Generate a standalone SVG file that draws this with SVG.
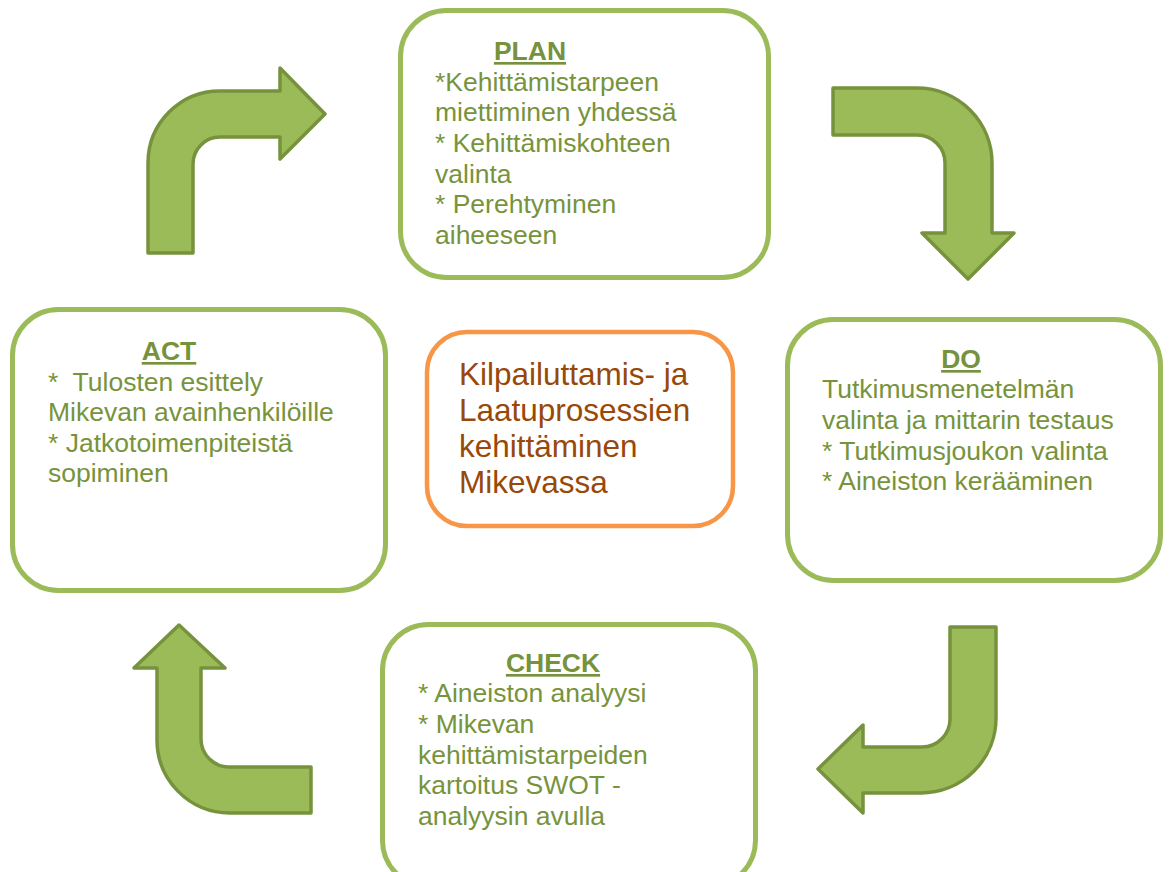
<svg xmlns="http://www.w3.org/2000/svg" width="1171" height="872" viewBox="0 0 1171 872">
<style>
.box{fill:#ffffff;stroke:#9BBB59;stroke-width:5}
.center{fill:#ffffff;stroke:#F79646;stroke-width:4.5}
.arrow{fill:#9BBB59;stroke:#76923C;stroke-width:3.5;stroke-linejoin:round}
.t{font-family:"Liberation Sans",Arial,sans-serif;font-size:26.5px;fill:#77933C;white-space:pre}
.h{font-family:"Liberation Sans",Arial,sans-serif;font-size:26.5px;font-weight:bold;fill:#76923C;text-anchor:middle;text-decoration:underline}
.c{font-family:"Liberation Sans",Arial,sans-serif;font-size:31.5px;fill:#984807}
</style>
<rect width="1171" height="872" fill="#ffffff"/>
<g id="connectors">
<path class="arrow" d="M148,253 L148,163 A72,72 0 0 1 220,91 L280,91 L280,68 L325,114 L280,159 L280,137 L220,137 A27,27 0 0 0 193,164 L193,253 Z"/>
<path class="arrow" d="M833,88 L917,88 A75,75 0 0 1 992,163 L992,233 L1014,233 L968,279 L922,233 L945,233 L945,163 A28,28 0 0 0 917,135 L833,135 Z"/>
<path class="arrow" d="M950,627 L996,627 L996,718 A75,75 0 0 1 921,793 L863,793 L863,813 L818,769 L863,725 L863,747 L922,747 A28,28 0 0 0 950,719 Z"/>
<path class="arrow" d="M311,767 L311,813 L230,813 A73,73 0 0 1 157,740 L157,668 L134,668 L179,625 L225,668 L201,668 L201,739 A28,28 0 0 0 229,767 Z"/>
</g>
<g id="plan">
<rect class="box" x="400.5" y="10.5" width="368" height="267" rx="46"/>
<text class="h" x="530" y="60">PLAN</text>
<text class="t" x="435" y="91">*Kehittämistarpeen</text>
<text class="t" x="435" y="121">miettiminen yhdessä</text>
<text class="t" x="435" y="152">* Kehittämiskohteen</text>
<text class="t" x="435" y="183">valinta</text>
<text class="t" x="435" y="213">* Perehtyminen</text>
<text class="t" x="435" y="244">aiheeseen</text>
</g>
<g id="do">
<rect class="box" x="787.5" y="319.5" width="373" height="261" rx="46"/>
<text class="h" x="961" y="368">DO</text>
<text class="t" x="822" y="398">Tutkimusmenetelmän</text>
<text class="t" x="822" y="429">valinta ja mittarin testaus</text>
<text class="t" x="822" y="460">* Tutkimusjoukon valinta</text>
<text class="t" x="822" y="490">* Aineiston kerääminen</text>
</g>
<g id="check">
<rect class="box" x="382.5" y="624.5" width="373" height="262" rx="46"/>
<text class="h" x="553" y="672">CHECK</text>
<text class="t" x="418" y="702">* Aineiston analyysi</text>
<text class="t" x="418" y="733">* Mikevan</text>
<text class="t" x="418" y="764">kehittämistarpeiden</text>
<text class="t" x="418" y="794">kartoitus SWOT -</text>
<text class="t" x="418" y="825">analyysin avulla</text>
</g>
<g id="act">
<rect class="box" x="12.5" y="309.5" width="373" height="281" rx="46"/>
<text class="h" x="169" y="360">ACT</text>
<text class="t" x="48" y="391">*  Tulosten esittely</text>
<text class="t" x="48" y="421">Mikevan avainhenkilöille</text>
<text class="t" x="48" y="452">* Jatkotoimenpiteistä</text>
<text class="t" x="48" y="482">sopiminen</text>
</g>
<g id="center">
<rect class="center" x="427" y="332" width="306" height="194" rx="40"/>
<text class="c" x="459" y="385">Kilpailuttamis- ja</text>
<text class="c" x="459" y="421">Laatuprosessien</text>
<text class="c" x="459" y="457">kehittäminen</text>
<text class="c" x="459" y="493">Mikevassa</text>
</g>
</svg>
